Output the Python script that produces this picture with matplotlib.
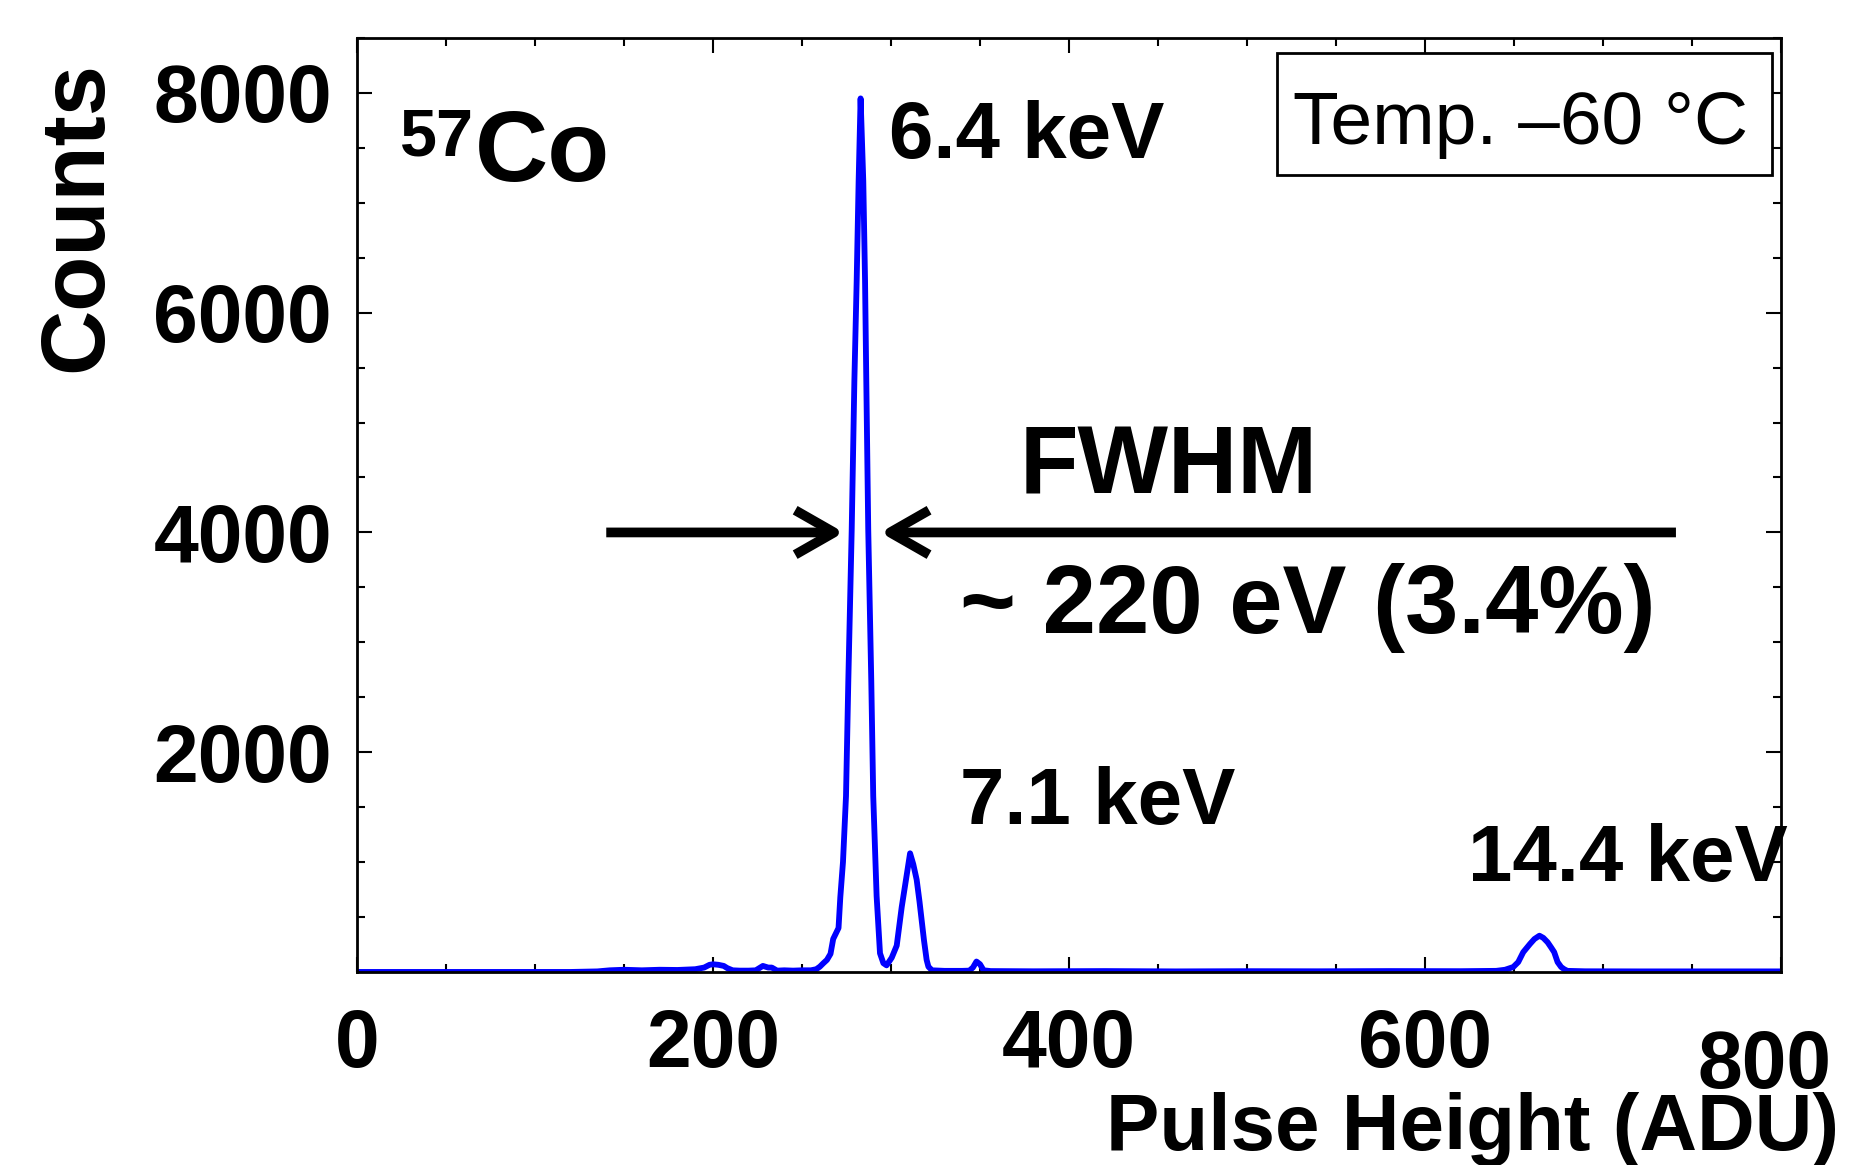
import matplotlib
matplotlib.use('Agg')
import matplotlib.pyplot as plt
from matplotlib.patches import FancyArrowPatch, Rectangle
from matplotlib.ticker import MultipleLocator, FuncFormatter
from matplotlib.transforms import ScaledTranslation

plt.rcParams['font.family'] = ['Liberation Sans', 'DejaVu Sans']

# 57Co spectrum: pulse height (ADU) -> counts
adu = [0, 40, 80, 120, 135, 142, 150, 160, 170, 180, 190, 195, 198, 200, 203,
       206, 208, 211, 215, 220, 224, 226, 228, 231, 233, 236, 240, 245, 250,
       255, 258, 260, 262, 264, 266, 267.5, 269, 270.5, 271.5, 273, 274.7, 276,
       277.9, 279.4, 280.7, 281.8, 282.9, 284.4, 285.4, 286.1, 287.2, 288.9,
       290, 291.9, 293.8, 295.7, 297.5, 300.4, 303.2, 306, 308.5, 310.7, 312.5,
       314.4, 316, 317.5, 318.5, 320, 321, 323, 330, 340, 344, 346, 348, 350,
       352, 356, 380, 420, 460, 500, 540, 580, 620, 640, 645, 649.6, 652.4,
       655.2, 659, 661.5, 664.3, 666.5, 668.9, 671, 672.6, 674.5, 676.5, 678.2,
       680, 690, 720, 760, 800]
counts = [0, 0, 0, 0, 5, 15, 20, 15, 20, 18, 25, 40, 65, 70, 65,
          55, 35, 15, 12, 12, 15, 35, 55, 40, 40, 12, 15, 12, 15,
          15, 25, 48, 80, 110, 165, 300, 350, 400, 680, 1000, 1600, 2650,
          4020, 5380, 6290, 7200, 7950, 7200, 6290, 5380, 4020, 2650,
          1600, 690, 170, 80, 60, 130, 240, 590, 850, 1080, 980,
          840, 640, 430, 290, 110, 48, 15, 10, 10, 12, 40, 95, 70,
          15, 8, 6, 8, 5, 7, 6, 8, 7, 10, 20, 45, 90,
          180, 255, 300, 330, 310, 270, 220, 180, 90, 45, 25,
          10, 6, 5, 5, 5]

x_ticks = [0, 200, 400, 600, 800]
y_ticks = [0, 2000, 4000, 6000, 8000]

fig = plt.figure(figsize=(18.54, 11.65), dpi=100)
ax = fig.add_axes([0.1926, 0.1657, 0.768, 0.8017])

ax.plot(adu, counts, color='#0000ff', lw=4.2, solid_joinstyle='round')

ax.set_xlim(0, 800)
ax.set_ylim(0, 8500)
ax.set_xticks(x_ticks)
ax.set_yticks(y_ticks)
ax.xaxis.set_minor_locator(MultipleLocator(50))
ax.yaxis.set_minor_locator(MultipleLocator(500))
ax.yaxis.set_major_formatter(FuncFormatter(lambda v, p: '' if v == 0 else '%d' % v))

ax.tick_params(which='both', direction='in', top=True, right=True, width=1.5)
ax.tick_params(which='major', length=11)
ax.tick_params(which='minor', length=5.5)
ax.tick_params(axis='x', which='major', pad=26, labelsize=58)
ax.tick_params(axis='y', which='major', pad=18, labelsize=58)
for lab in ax.get_xticklabels() + ax.get_yticklabels():
    lab.set_fontweight('bold')
for sp in ax.spines.values():
    sp.set_linewidth(2)

# ROOT pushed the last x label down a bit
last = ax.get_xticklabels()[-1]
last.set_transform(last.get_transform() + ScaledTranslation(-0.16, -0.21, fig.dpi_scale_trans))

ax.set_xlabel('Pulse Height (ADU)', fontsize=57.5, fontweight='bold', loc='right')
ax.xaxis.set_label_coords(1.0407, -0.1906)
ax.xaxis.label.set_verticalalignment('baseline')

ax.set_ylabel('Counts', fontsize=65, fontweight='bold', loc='top')
ax.yaxis.set_label_coords(-0.196, 0.975)
ax.yaxis.label.set_verticalalignment('center')

# annotations
ax.text(24, 7426, '57', fontsize=48, fontweight='bold', ha='left', va='baseline')
ax.text(66, 7200, 'Co', fontsize=73, fontweight='bold', ha='left', va='baseline')
ax.text(299, 7408, '6.4 keV', fontsize=57.5, fontweight='bold', ha='left', va='baseline')
ax.text(372, 4350, 'FWHM', fontsize=69, fontweight='bold', ha='left', va='baseline')
ax.text(339, 3085, '~ 220 eV (3.4%)', fontsize=69, fontweight='bold', ha='left', va='baseline')
ax.text(339, 1347, '7.1 keV', fontsize=57.5, fontweight='bold', ha='left', va='baseline')
ax.text(624, 828, '14.4 keV', fontsize=57.5, fontweight='bold', ha='left', va='baseline')

# FWHM arrows
style = '->,head_length=0.28,head_width=0.16'
for x0, x1 in [(140, 273.5), (741, 294)]:
    arr = FancyArrowPatch((x0, 4000), (x1, 4000), arrowstyle=style,
                          mutation_scale=100, lw=7, color='black',
                          shrinkA=0, shrinkB=0, joinstyle='round', capstyle='butt')
    ax.add_patch(arr)

# temperature box
ax.add_patch(Rectangle((0.646, 0.853), 0.3475, 0.131, transform=ax.transAxes,
                       facecolor='white', edgecolor='black', lw=2, zorder=5))
ax.text(0.817, 0.887, 'Temp. \u201360 \u00b0C', transform=ax.transAxes,
        fontsize=54, ha='center', va='baseline', zorder=6)

fig.savefig('out.png', dpi=100)
